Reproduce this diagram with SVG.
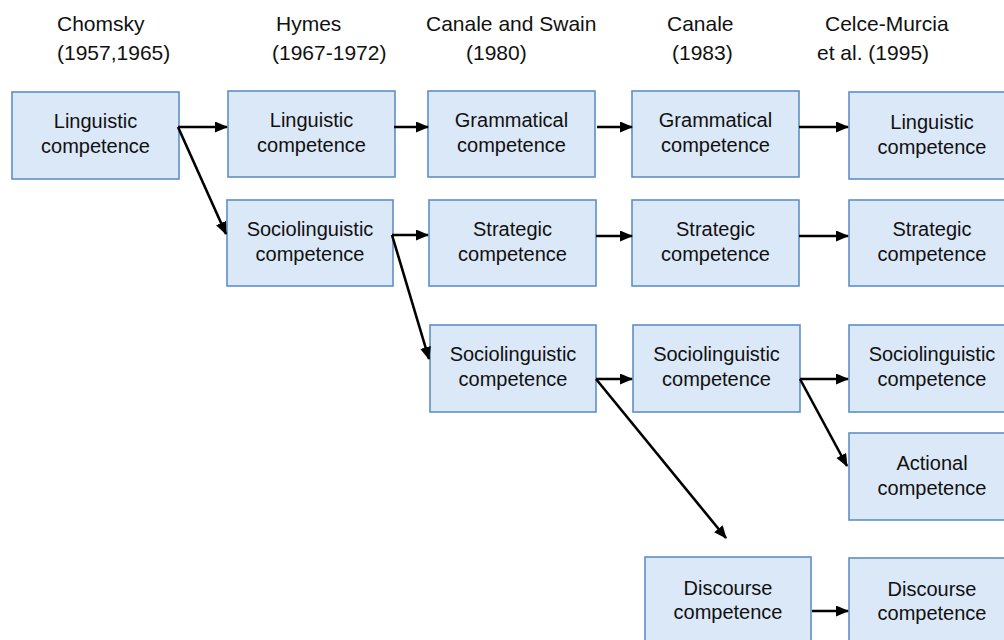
<svg xmlns="http://www.w3.org/2000/svg" width="1004" height="640" viewBox="0 0 1004 640">
<style>
.hdr{font-family:"Liberation Sans",Arial,sans-serif;font-size:21px;fill:#111}
.box{fill:#dbe8f7;stroke:#5f8fc6;stroke-width:1.6}
.lbl{font-family:"Liberation Sans",Arial,sans-serif;font-size:20px;fill:#111;text-anchor:middle}
.con{stroke:#000;stroke-width:2.6;fill:none;marker-end:url(#ah)}
</style>
<defs>
<marker id="ah" markerUnits="userSpaceOnUse" markerWidth="14" markerHeight="12" refX="12" refY="5.5" orient="auto">
<path d="M0,0 L13,5.5 L0,11 z" fill="#000"/>
</marker>
</defs>
<rect width="1004" height="640" fill="#fff"/>
<g id="headers">
<text class="hdr" x="57" y="31">Chomsky</text>
<text class="hdr" x="57" y="60">(1957,1965)</text>
<text class="hdr" x="276" y="31">Hymes</text>
<text class="hdr" x="272" y="60">(1967-1972)</text>
<text class="hdr" x="426" y="31">Canale and Swain</text>
<text class="hdr" x="466" y="60">(1980)</text>
<text class="hdr" x="667" y="31">Canale</text>
<text class="hdr" x="672" y="60">(1983)</text>
<text class="hdr" x="825" y="31">Celce-Murcia</text>
<text class="hdr" x="817" y="60">et al. (1995)</text>
</g>
<g id="chomsky-linguistic"><rect class="box" x="12" y="92" width="167" height="87"/><text class="lbl" x="95.5" y="128">Linguistic</text><text class="lbl" x="95.5" y="153">competence</text></g>
<g id="hymes-linguistic"><rect class="box" x="228" y="91" width="167" height="86"/><text class="lbl" x="311.5" y="127">Linguistic</text><text class="lbl" x="311.5" y="152">competence</text></g>
<g id="hymes-socio"><rect class="box" x="227" y="200" width="166" height="86"/><text class="lbl" x="310" y="236">Sociolinguistic</text><text class="lbl" x="310" y="261">competence</text></g>
<g id="cs-grammatical"><rect class="box" x="428" y="91" width="167" height="86"/><text class="lbl" x="511.5" y="127">Grammatical</text><text class="lbl" x="511.5" y="152">competence</text></g>
<g id="cs-strategic"><rect class="box" x="429" y="200" width="167" height="86"/><text class="lbl" x="512.5" y="236">Strategic</text><text class="lbl" x="512.5" y="261">competence</text></g>
<g id="cs-socio"><rect class="box" x="430" y="325" width="166" height="87"/><text class="lbl" x="513" y="361">Sociolinguistic</text><text class="lbl" x="513" y="386">competence</text></g>
<g id="c-grammatical"><rect class="box" x="632" y="91" width="167" height="86"/><text class="lbl" x="715.5" y="127">Grammatical</text><text class="lbl" x="715.5" y="152">competence</text></g>
<g id="c-strategic"><rect class="box" x="632" y="200" width="167" height="86"/><text class="lbl" x="715.5" y="236">Strategic</text><text class="lbl" x="715.5" y="261">competence</text></g>
<g id="c-socio"><rect class="box" x="633" y="325" width="167" height="87"/><text class="lbl" x="716.5" y="361">Sociolinguistic</text><text class="lbl" x="716.5" y="386">competence</text></g>
<g id="c-discourse"><rect class="box" x="645" y="557" width="166" height="88"/><text class="lbl" x="728" y="595">Discourse</text><text class="lbl" x="728" y="619">competence</text></g>
<g id="cm-linguistic"><rect class="box" x="849" y="92" width="166" height="87"/><text class="lbl" x="932" y="129">Linguistic</text><text class="lbl" x="932" y="154">competence</text></g>
<g id="cm-strategic"><rect class="box" x="849" y="200" width="166" height="86"/><text class="lbl" x="932" y="236">Strategic</text><text class="lbl" x="932" y="261">competence</text></g>
<g id="cm-socio"><rect class="box" x="849" y="325" width="166" height="87"/><text class="lbl" x="932" y="361">Sociolinguistic</text><text class="lbl" x="932" y="386">competence</text></g>
<g id="cm-actional"><rect class="box" x="849" y="433" width="166" height="87"/><text class="lbl" x="932" y="470">Actional</text><text class="lbl" x="932" y="495">competence</text></g>
<g id="cm-discourse"><rect class="box" x="849" y="558" width="166" height="88"/><text class="lbl" x="932" y="596">Discourse</text><text class="lbl" x="932" y="620">competence</text></g>
<g id="connectors">
<line class="con" x1="178" y1="127" x2="227" y2="127"/>
<line class="con" x1="178" y1="127" x2="226" y2="234"/>
<line class="con" x1="394" y1="127" x2="428" y2="127"/>
<line class="con" x1="392" y1="235" x2="428" y2="235"/>
<line class="con" x1="392" y1="235" x2="429" y2="359"/>
<line class="con" x1="597" y1="127" x2="632" y2="127"/>
<line class="con" x1="799" y1="127" x2="848" y2="127"/>
<line class="con" x1="596" y1="236" x2="632" y2="236"/>
<line class="con" x1="799" y1="236" x2="848" y2="236"/>
<line class="con" x1="596" y1="379" x2="632" y2="379"/>
<line class="con" x1="596" y1="379" x2="726" y2="538"/>
<line class="con" x1="800" y1="379" x2="848" y2="379"/>
<line class="con" x1="800" y1="379" x2="847" y2="466"/>
<line class="con" x1="812" y1="611" x2="848" y2="611"/>
</g>
</svg>
